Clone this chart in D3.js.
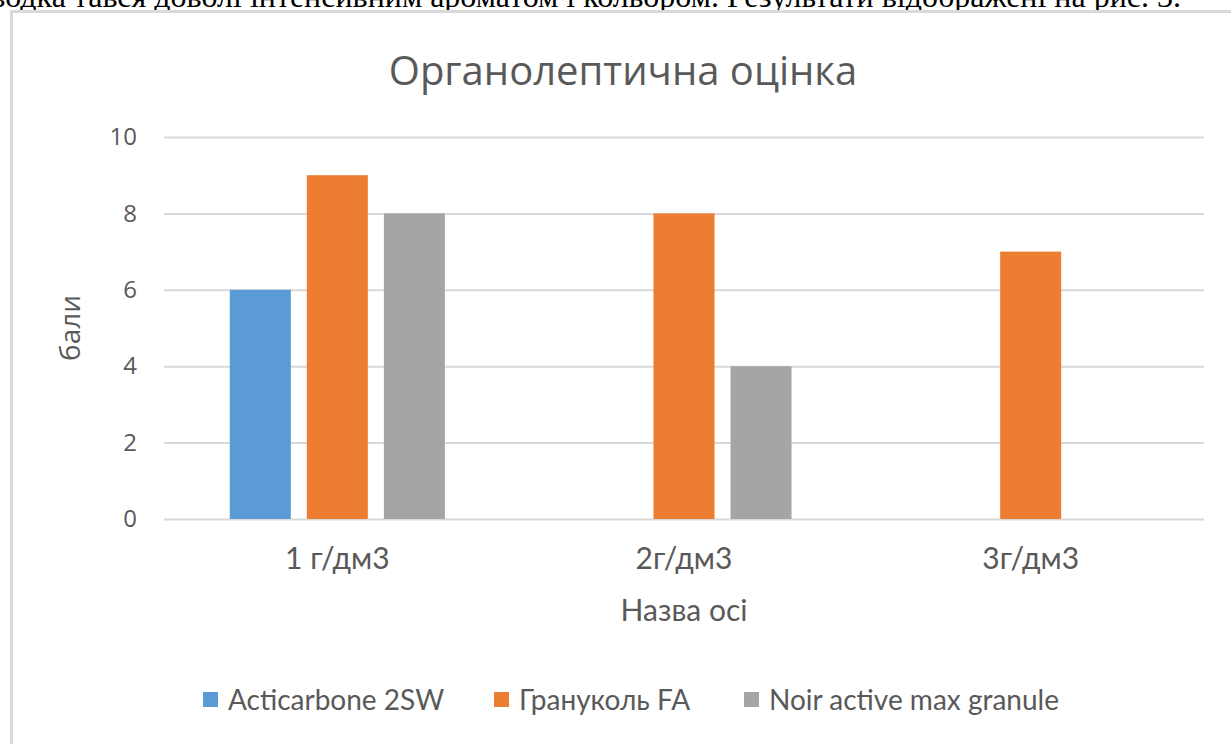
<!DOCTYPE html>
<html>
<head>
<meta charset="utf-8">
<script src="https://cdn.jsdelivr.net/npm/d3@7"></script>
<style>
  body { margin: 0; background: #fff; overflow: hidden; }
  svg { display: block; }
</style>
</head>
<body>
<div id="chart"></div>
<script>
// data
const categories = ["1 г/дм3", "2г/дм3", "3г/дм3"];
const seriesNames = ["Acticarbone 2SW", "Грануколь FA", "Noir active max granule"];
const acticarbone = [6, null, null];
const granukol = [9, 8, 7];
const noirActive = [8, 4, null];
const yTicks = [0, 2, 4, 6, 8, 10];
const seriesColors = ["#5b9bd5", "#ed7d31", "#a5a5a5"];

const chartTitle = "Органолептична оцінка";
const xTitle = "Назва осі";
const yTitle = "бали";
const pageLine = "Горілка-водка тався доволі інтенсивним ароматом і кольором. Результати відображені на рис. 3.";

const width = 1231, height = 744;
const plot = { left: 164, right: 1204, top: 137, bottom: 519 };
const textColor = "#595959";
const gridColor = "#d9d9d9";
const sansFont = "'Open Sans', 'Noto Sans', sans-serif";
const narrowFont = "Lato, 'Liberation Sans Narrow', sans-serif";

const values = [acticarbone, granukol, noirActive];
const rows = categories.map((c, i) => ({
  key: c,
  bars: seriesNames.map((s, j) => ({ series: s, value: values[j][i], color: seriesColors[j] }))
}));

const svg = d3.select("#chart").append("svg")
  .attr("width", width)
  .attr("height", height);

// the cut-off line of the document text above the chart
svg.append("text")
  .attr("x", 1181)
  .attr("y", 7)
  .attr("text-anchor", "end")
  .attr("font-family", "'Liberation Serif', 'Times New Roman', serif")
  .attr("font-size", 32)
  .attr("fill", "#000")
  .text(pageLine);

// chart area, covers the rest of the line above
svg.append("rect")
  .attr("x", 10)
  .attr("y", 10)
  .attr("width", width)
  .attr("height", height)
  .attr("fill", "#fff");

svg.append("path")
  .attr("d", `M11.5,${height + 5}V11.5H${width + 5}`)
  .attr("fill", "none")
  .attr("stroke", gridColor)
  .attr("stroke-width", 3);

const x0 = d3.scaleBand()
  .domain(categories)
  .range([plot.left, plot.right]);

const x1 = d3.scaleBand()
  .domain(seriesNames)
  .range([0, x0.bandwidth()])
  .paddingInner(0.208)
  .paddingOuter(0.854);

const y = d3.scaleLinear()
  .domain([0, 10])
  .range([plot.bottom, plot.top]);

// gridlines + value axis
const yAxis = d3.axisLeft(y)
  .tickValues(yTicks)
  .tickSize(-(plot.right - plot.left))
  .tickPadding(27);

const yg = svg.append("g")
  .attr("transform", `translate(${plot.left},0)`)
  .call(yAxis);
yg.select(".domain").remove();
yg.selectAll(".tick line").attr("stroke", gridColor).attr("stroke-width", 2);
yg.selectAll(".tick text")
  .attr("fill", textColor)
  .attr("font-family", sansFont)
  .attr("font-size", 24);

// bars
const groups = svg.selectAll("g.cat")
  .data(rows)
  .enter()
  .append("g")
  .attr("class", "cat")
  .attr("transform", (d) => `translate(${x0(d.key)},0)`);

groups.selectAll("rect")
  .data((d) => d.bars.filter((b) => b.value != null))
  .enter()
  .append("rect")
  .attr("x", (d) => x1(d.series))
  .attr("y", (d) => y(d.value))
  .attr("width", x1.bandwidth())
  .attr("height", (d) => y(0) - y(d.value))
  .attr("fill", (d) => d.color);

// category axis
const xAxis = d3.axisBottom(x0).tickSize(0).tickPadding(29);
const xg = svg.append("g")
  .attr("transform", `translate(0,${plot.bottom})`)
  .call(xAxis);
xg.select(".domain").remove();
xg.selectAll(".tick text")
  .attr("fill", textColor)
  .attr("font-family", narrowFont)
  .attr("font-size", 30);

// titles
svg.append("text")
  .attr("x", 623)
  .attr("y", 85)
  .attr("text-anchor", "middle")
  .attr("font-family", sansFont)
  .attr("font-size", 40)
  .attr("fill", textColor)
  .text(chartTitle);

svg.append("text")
  .attr("x", (plot.left + plot.right) / 2)
  .attr("y", 621)
  .attr("text-anchor", "middle")
  .attr("font-family", narrowFont)
  .attr("font-size", 30)
  .attr("fill", textColor)
  .text(xTitle);

svg.append("text")
  .attr("transform", `translate(80,${(plot.top + plot.bottom) / 2}) rotate(-90)`)
  .attr("text-anchor", "middle")
  .attr("font-family", sansFont)
  .attr("font-size", 28)
  .attr("fill", textColor)
  .text(yTitle);

// legend
const legendX = [228, 519, 769];
const legend = svg.selectAll("g.legend")
  .data(seriesNames)
  .enter()
  .append("g")
  .attr("class", "legend")
  .attr("transform", (d, i) => `translate(${legendX[i]},700)`);

legend.append("rect")
  .attr("x", -25)
  .attr("y", -8)
  .attr("width", 15)
  .attr("height", 15)
  .attr("fill", (d, i) => seriesColors[i]);

legend.append("text")
  .attr("y", 10)
  .attr("font-family", narrowFont)
  .attr("font-size", 28)
  .attr("fill", textColor)
  .text((d) => d);
</script>
</body>
</html>
